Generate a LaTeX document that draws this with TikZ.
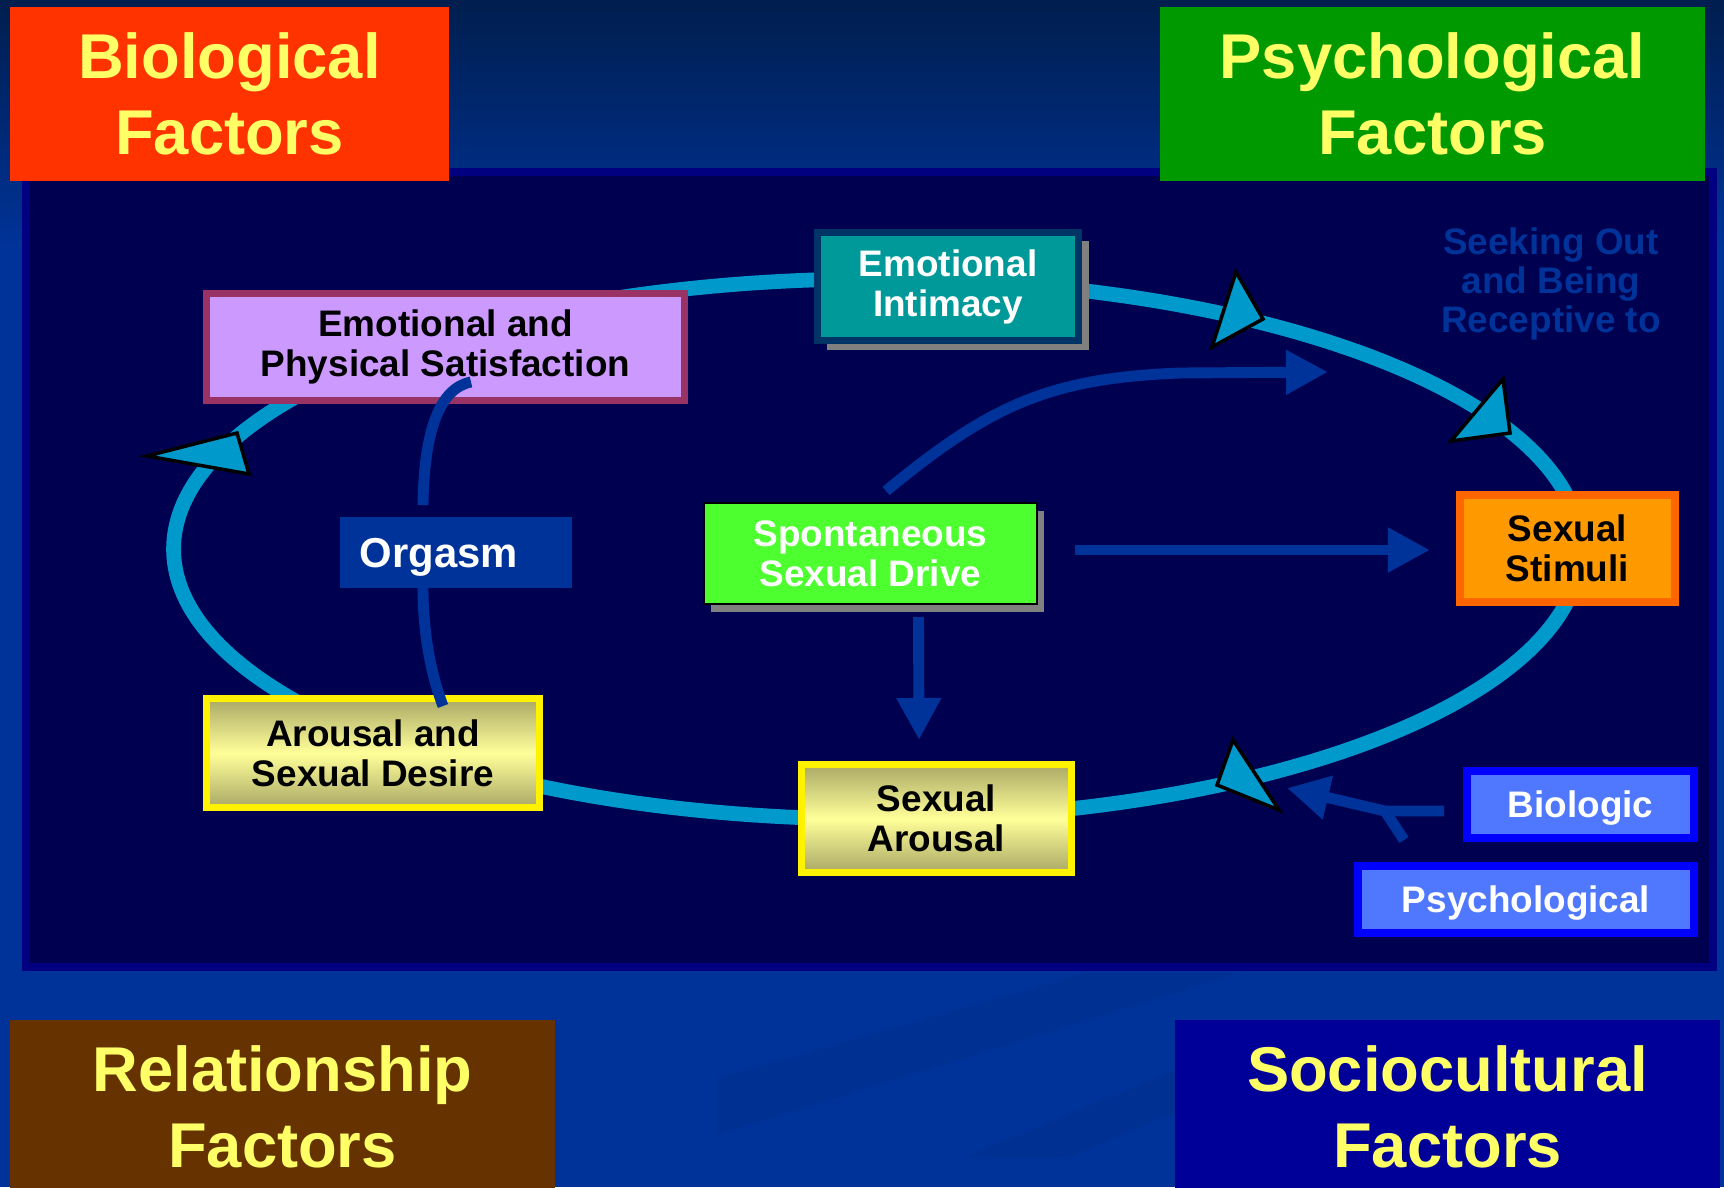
\documentclass[tikz,border=0pt]{standalone}
\usepackage{fontspec}
\setmainfont{Liberation Sans}
\usetikzlibrary{arrows.meta,calc,shadows}

\definecolor{bgblue}{HTML}{003399}
\definecolor{bgtop}{HTML}{001E4E}
\definecolor{panel}{HTML}{000050}
\definecolor{panelrim}{HTML}{000080}
\definecolor{titleyel}{HTML}{FFFF66}
\definecolor{biored}{HTML}{FF3300}
\definecolor{psygreen}{HTML}{009900}
\definecolor{relbrown}{HTML}{663300}
\definecolor{socblue}{HTML}{000099}
\definecolor{loopblue}{HTML}{0099CC}
\definecolor{linkblue}{HTML}{003399}
\definecolor{intimteal}{HTML}{009999}
\definecolor{intimrim}{HTML}{003366}
\definecolor{satisfill}{HTML}{CC99FF}
\definecolor{satisrim}{HTML}{993366}
\definecolor{drivegreen}{HTML}{4DFF2E}
\definecolor{stimfill}{HTML}{FF9900}
\definecolor{stimrim}{HTML}{FF6600}
\definecolor{sandedge}{HTML}{AAA866}
\definecolor{sandmid}{HTML}{FFFF99}
\definecolor{periwink}{HTML}{5078FF}
\definecolor{shadegray}{HTML}{808080}

\begin{document}
\begin{tikzpicture}[x=0.01cm, y=-0.01cm,
  factorbox/.style={fill=#1, text=titleyel, font=\fontsize{18}{21.8}\selectfont\bfseries, align=center, minimum height=1.73cm, inner sep=0pt, outer sep=0pt},
  stagebox/.style={draw=#1, line width=2pt, align=center, inner sep=0pt, outer sep=0pt, font=\fontsize{10.5}{11.4}\selectfont\bfseries},
  sandbox/.style={stagebox=yellow, top color=sandedge, bottom color=sandedge, middle color=sandmid},
  sourcebox/.style={stagebox=blue, line width=2.3pt, fill=periwink, text=white, text depth=0pt, minimum height=.67cm},
  looppath/.style={draw=loopblue, line width=4.2pt},
  looptip/.style={fill=loopblue, draw=black, line width=1pt, line join=miter},
  link/.style={draw=linkblue, line width=3.1pt},
  linkarrow/.style={link, -{Triangle[length=.42cm, width=.42cm]}},
]
\useasboundingbox (0,0) rectangle (1724,1187);

% Slide background
\fill[bgblue] (0,0) rectangle (1724,1187);
\shade[top color=bgtop, bottom color=bgblue] (0,0) rectangle (1724,250);
\fill[black, opacity=.045] (717,1078) -- (1085,973) -- (1240,973) -- (717,1135) -- cycle;
\fill[black, opacity=.045] (965,1157) -- (1175,1070) -- (1175,1113) -- (1066,1158) -- cycle;

% Dark panel
\filldraw[fill=panel, draw=panelrim, line width=2.2pt] (26,172) rectangle (1713,967);

% Factor headings
\node[factorbox=biored, minimum width=4.39cm] (biofac) at (229.5,94) {Biological\\Factors};
\node[factorbox=psygreen, minimum width=5.45cm] (psyfac) at (1432.5,94) {Psychological\\Factors};
\node[factorbox=relbrown, minimum width=5.45cm] (relfac) at (282.5,1107) {Relationship\\Factors};
\node[factorbox=socblue, minimum width=5.45cm] (socfac) at (1447.5,1107) {Sociocultural\\Factors};

% The cycle
\coordinate (loop) at (877,549);
\draw[looppath] (loop) ellipse [x radius=7.03cm, y radius=2.70cm];
\filldraw[looptip] (1236,272) -- (1263,319) -- (1212,347) -- cycle;
\filldraw[looptip] (1503,379) -- (1510,433) -- (1451,441) -- cycle;
\filldraw[looptip] (1233,740) -- (1279,810) -- (1217,785) -- cycle;
\filldraw[looptip] (147,456) -- (237,433) -- (249,474) -- cycle;

\node[text=linkblue, align=center, font=\fontsize{10.5}{11.2}\selectfont\bfseries] (seek) at (1551,284) {Seeking Out\\and Being\\Receptive to};

% Stages of the cycle
\node[stagebox=intimrim, fill=intimteal, text=white, minimum width=2.61cm, minimum height=1.08cm,
  drop shadow={shadow xshift=.1cm, shadow yshift=-.09cm, fill=shadegray, opacity=1}] (intim) at (948,286.5) {Emotional\\Intimacy};
\node[stagebox=satisrim, fill=satisfill, minimum width=4.78cm, minimum height=1.07cm] (satis) at (445.5,347) {Emotional and\\Physical Satisfaction};
\node[fill=linkblue, text=white, font=\fontsize{11.9}{13}\selectfont\bfseries, text width=1.92cm, text depth=0pt, align=left,
  inner xsep=.2cm, inner ysep=0pt, minimum height=.71cm, outer sep=0pt] (orgasm) at (456,552.5) {Orgasm};
\node[stagebox=black, line width=.6pt, fill=drivegreen, text=white, minimum width=3.33cm, minimum height=1.01cm,
  drop shadow={shadow xshift=.07cm, shadow yshift=-.08cm, fill=shadegray, opacity=1}] (drive) at (870.5,553.5) {Spontaneous\\Sexual Drive};
\node[stagebox=stimrim, line width=2.3pt, fill=stimfill, minimum width=2.15cm, minimum height=1.07cm] (stimuli) at (1567.5,548.5) {Sexual\\Stimuli};
\node[sandbox, minimum width=3.33cm, minimum height=1.09cm] (desire) at (373,753) {Arousal and\\Sexual Desire};
\node[sandbox, minimum width=2.70cm, minimum height=1.08cm] (sarousal) at (936.5,818.5) {Sexual\\Arousal};
\node[sourcebox, minimum width=2.27cm] (biologic) at (1580.5,804.5) {Biologic};
\node[sourcebox, minimum width=3.36cm] (psycho) at (1526,899.5) {Psychological};

% Orgasm links
\draw[link] ($(satis.center)+(25.5,35)$) .. controls (440,388) and (424,430) .. ($(orgasm.center)+(-33,-47.5)$);
\draw[link] ($(orgasm.center)+(-33,35.5)$) .. controls (423,630) and (430,672) .. ($(desire.center)+(70,-47)$);

% Arrows out of the drive
\coordinate (drivetip) at (1328,372);
\draw[linkarrow] ($(drive.center)+(15.5,-62.5)$) .. controls (990,405) and (1050,378) .. (1180,373) -- (drivetip);
\draw[linkarrow] ($(drive.center)+(204.5,-3.5)$) -- ($(stimuli.center)+(-137.5,1.5)$);
\draw[linkarrow] ($(drive.center)+(48,63.5)$) -- ($(sarousal.center)+(-17.5,-78.5)$);

% Biologic and psychological input
\coordinate (fork) at (1385,811);
\coordinate (inputtip) at (1287,788);
\draw[linkarrow] ($(biologic.center)+(-136.5,6.5)$) -- (fork) -- (inputtip);
\draw[link] ($(psycho.center)+(-122,-59.5)$) -- (fork);

\end{tikzpicture}
\end{document}
